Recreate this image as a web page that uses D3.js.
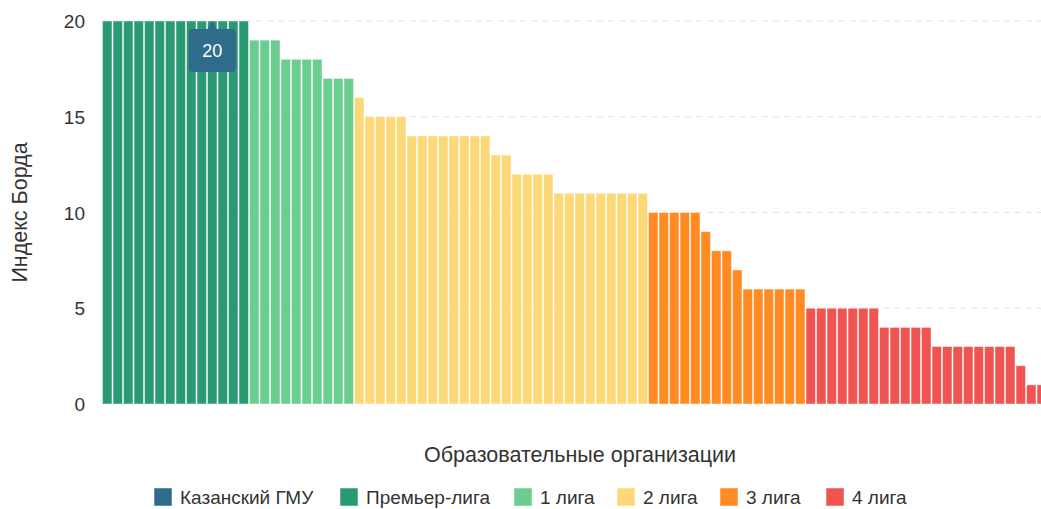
<!DOCTYPE html>
<html>
<head>
<meta charset="utf-8">
<script src="https://cdn.jsdelivr.net/npm/d3@7"></script>
<style>
  html, body { margin: 0; padding: 0; background: #fff; overflow: hidden; }
  svg { display: block; font-family: "Liberation Sans", Arial, sans-serif; }
</style>
</head>
<body>
<svg id="chart" width="1041" height="509"></svg>
<script>
// ---- Data ----
const premierValues = [20, 20, 20, 20, 20, 20, 20, 20, 20, 20, 20, 20, 20, 20];
const liga1Values = [19, 19, 19, 18, 18, 18, 18, 17, 17, 17];
const liga2Values = [16, 15, 15, 15, 15, 14, 14, 14, 14, 14, 14, 14, 14, 13, 13, 12, 12, 12, 12, 11, 11, 11, 11, 11, 11, 11, 11, 11];
const liga3Values = [10, 10, 10, 10, 10, 9, 8, 8, 7, 6, 6, 6, 6, 6, 6];
const liga4Values = [5, 5, 5, 5, 5, 5, 5, 4, 4, 4, 4, 4, 3, 3, 3, 3, 3, 3, 3, 3, 2, 1, 1];
const kazanIndex = 10; // hovered bar (Казанский ГМУ) showing tooltip
const seriesNames = ["Казанский ГМУ", "Премьер-лига", "1 лига", "2 лига", "3 лига", "4 лига"];
const seriesColors = ["#2f6b8b", "#2a9a73", "#6ccd90", "#fdd878", "#ff8b22", "#ef5451"];
const yTicks = [0, 5, 10, 15, 20];
const yTitle = "Индекс Борда";
const xTitle = "Образовательные организации";

// ---- Build rows ----
const groups = [premierValues, liga1Values, liga2Values, liga3Values, liga4Values];
const rows = [];
groups.forEach((arr, gi) => arr.forEach(v => rows.push({ id: "org" + rows.length, value: v, league: gi + 1 })));

const svg = d3.select("#chart");
const margin = { left: 102, right: 1047, top: 21, bottom: 404 };

const x = d3.scaleBand().domain(rows.map(d => d.id)).range([margin.left, margin.right]).paddingInner(0.1).paddingOuter(0.05);
const y = d3.scaleLinear().domain([0, 20]).range([margin.bottom, margin.top]);

// grid
svg.append("g").selectAll("line").data(yTicks.filter(t => t > 0)).join("line")
  .attr("x1", margin.left).attr("x2", 1041)
  .attr("y1", d => y(d)).attr("y2", d => y(d))
  .attr("stroke", "#e3e3e3").attr("stroke-width", 1).attr("stroke-dasharray", "6,5");

// y axis labels
const yAxis = d3.axisLeft(y).tickValues(yTicks).tickSize(0).tickPadding(0);
const yg = svg.append("g").attr("transform", "translate(85,0)").call(yAxis);
yg.select(".domain").remove();
yg.selectAll("text").attr("font-size", 19).attr("fill", "#333").attr("font-family", "Liberation Sans, Arial, sans-serif").attr("dy", "0.35em");

// bars
svg.append("g").selectAll("rect").data(rows).join("rect")
  .attr("x", d => x(d.id))
  .attr("y", d => y(d.value))
  .attr("width", x.bandwidth())
  .attr("height", d => y(0) - y(d.value))
  .attr("fill", d => seriesColors[d.league])
  .attr("stroke", "rgba(255,255,255,0.45)")
  .attr("stroke-width", 1);

// axis titles
svg.append("text")
  .attr("transform", `translate(27,${(margin.top + margin.bottom) / 2}) rotate(-90)`)
  .attr("text-anchor", "middle").attr("font-size", 21.5).attr("fill", "#333")
  .text(yTitle);
svg.append("text")
  .attr("x", 580).attr("y", 462)
  .attr("text-anchor", "middle").attr("font-size", 21.5).attr("fill", "#333")
  .text(xTitle);

// legend
const legendX = [154, 340, 514, 617, 720, 826];
const lg = svg.append("g").selectAll("g").data(seriesNames).join("g")
  .attr("transform", (d, i) => `translate(${legendX[i]},488)`);
lg.append("rect").attr("width", 18).attr("height", 18).attr("fill", (d, i) => seriesColors[i])
  .attr("stroke", "rgba(255,255,255,0.5)");
lg.append("text").attr("x", 26).attr("y", 9).attr("dy", "0.35em")
  .attr("font-size", 19).attr("fill", "#333").text(d => d);

// tooltip on hovered bar
const kd = rows[kazanIndex];
const cx = x(kd.id) + x.bandwidth() / 2;
const ty = y(kd.value);
const tw = 47, th = 43, tOff = 8;
const tg = svg.append("g");
tg.append("path")
  .attr("d", `M${cx - 5},${ty + tOff + 1} L${cx},${ty} L${cx + 5},${ty + tOff + 1} Z`)
  .attr("fill", seriesColors[0]);
tg.append("rect")
  .attr("x", cx - tw / 2).attr("y", ty + tOff).attr("width", tw).attr("height", th)
  .attr("rx", 4).attr("fill", seriesColors[0]);
tg.append("text")
  .attr("x", cx).attr("y", ty + tOff + th / 2).attr("dy", "0.35em")
  .attr("text-anchor", "middle").attr("font-size", 18).attr("fill", "#fff")
  .text(kd.value);
</script>
</body>
</html>
